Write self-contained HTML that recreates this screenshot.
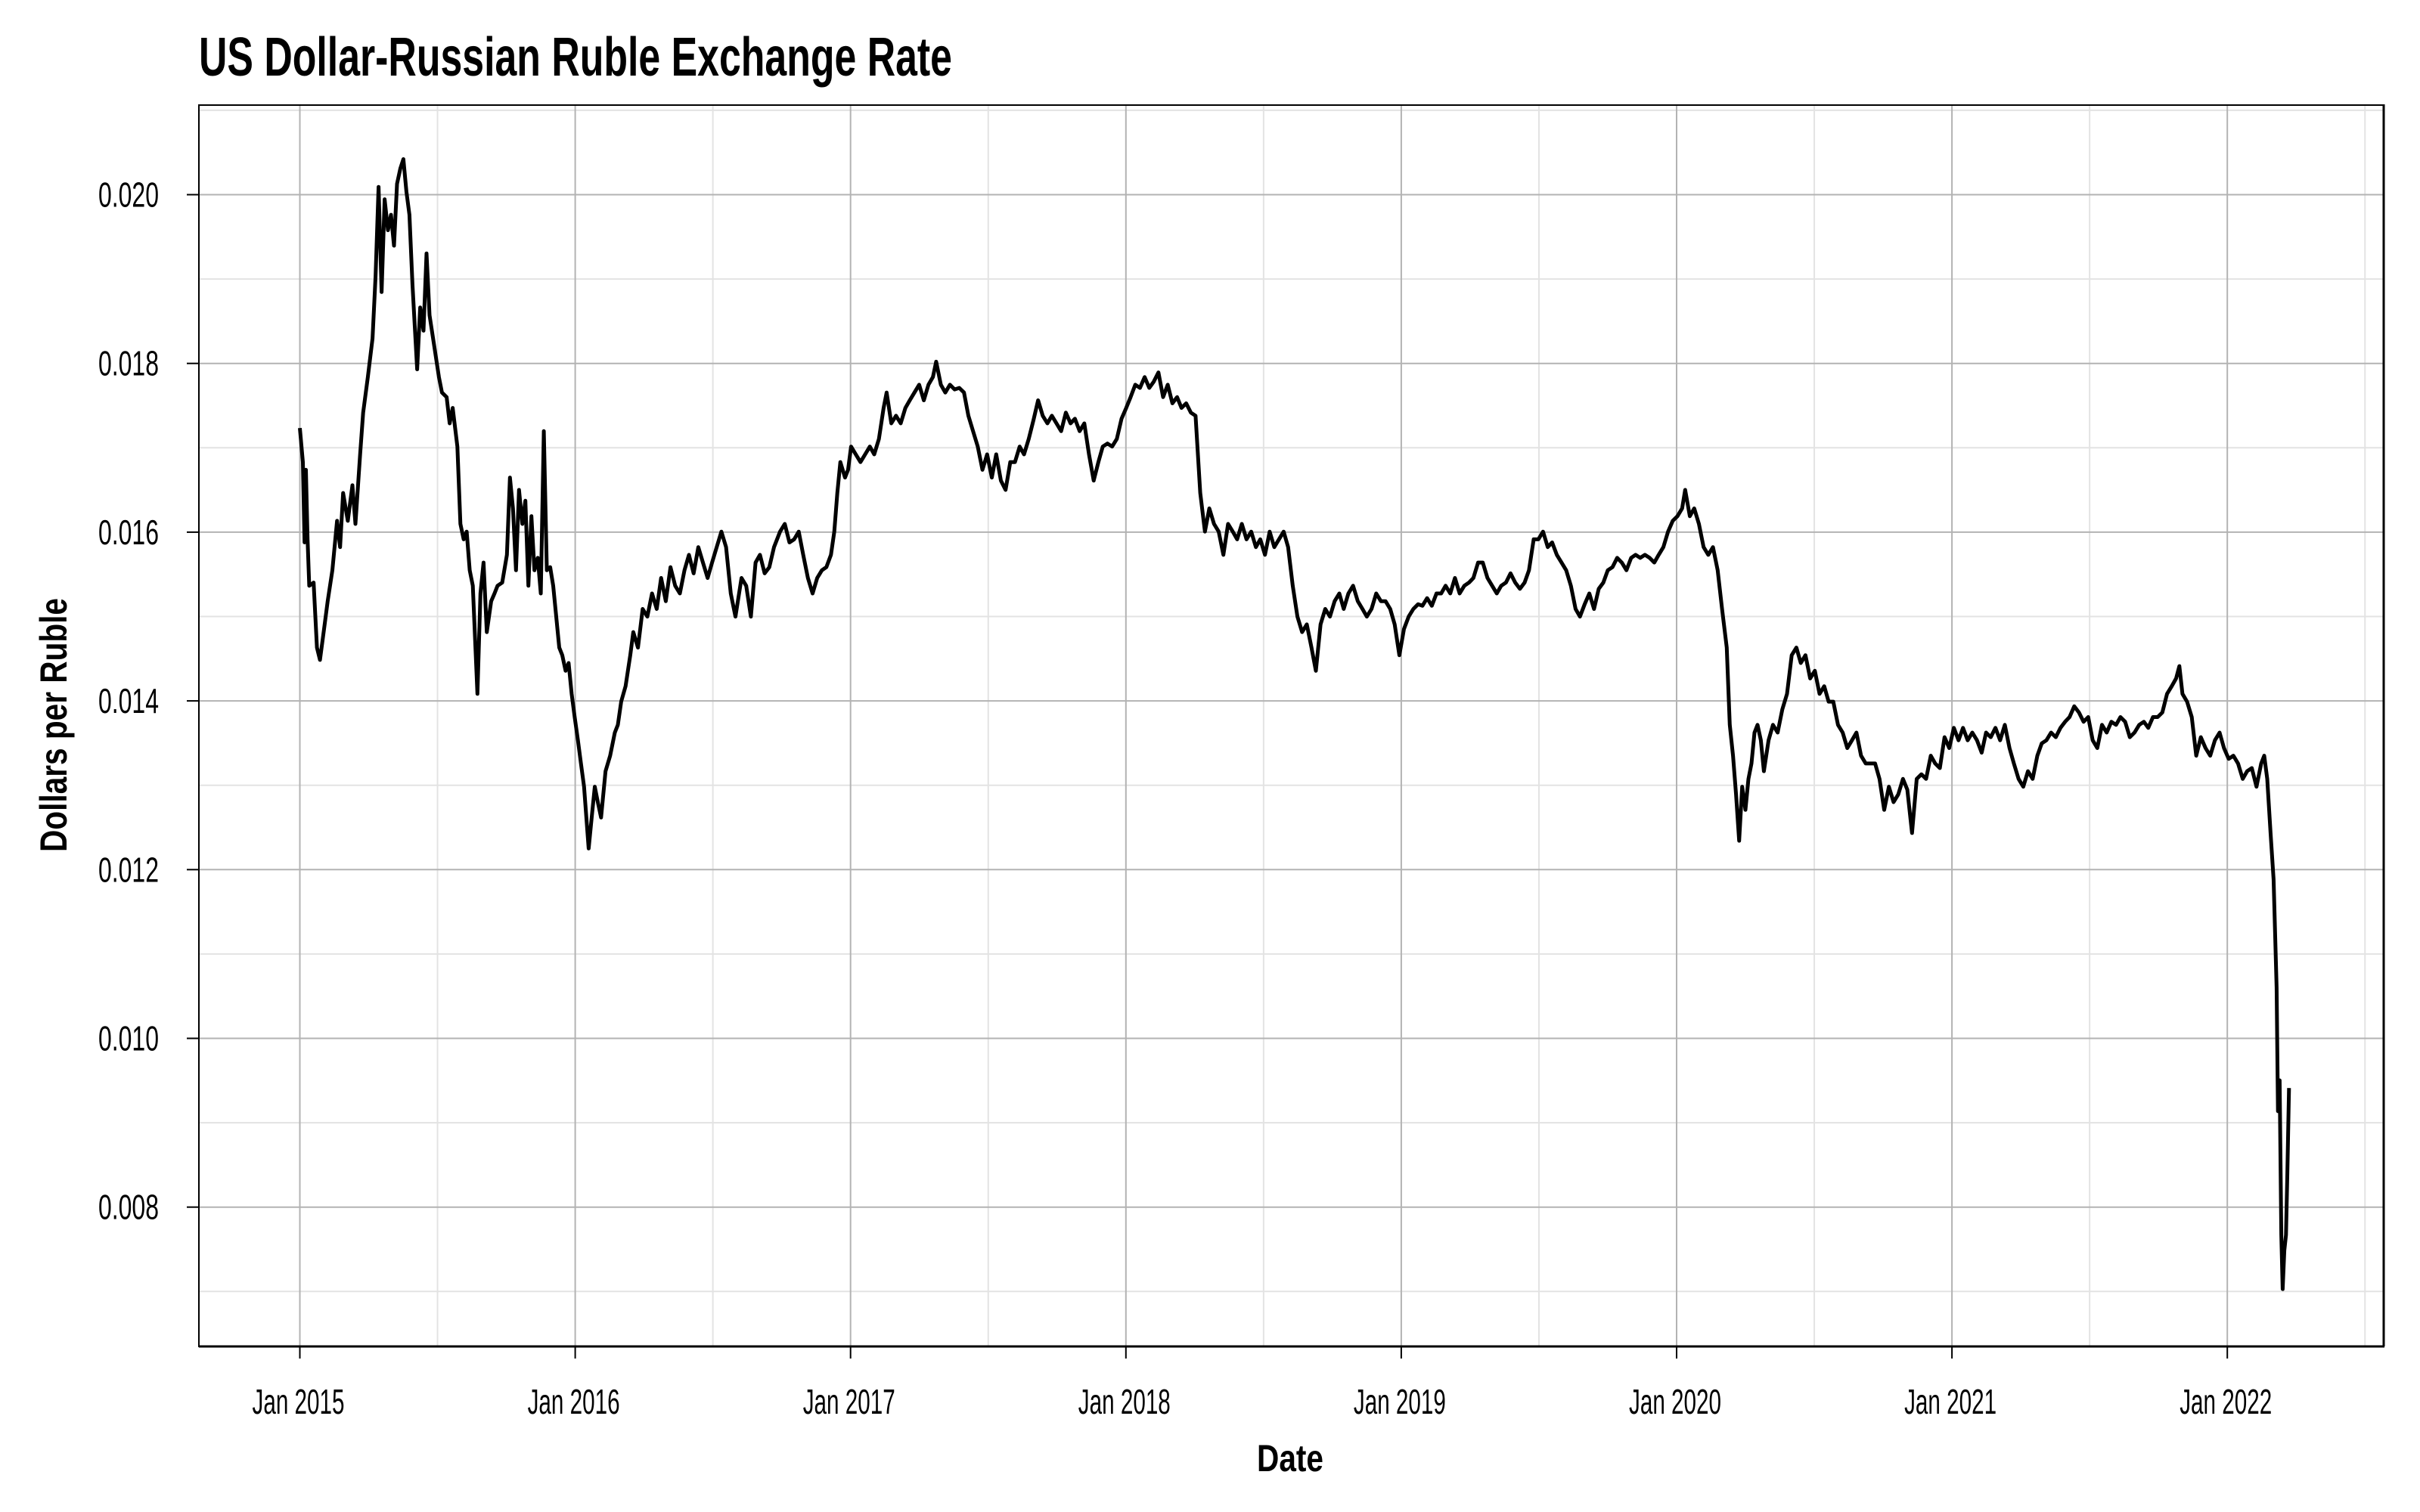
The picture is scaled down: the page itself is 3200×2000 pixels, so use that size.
<!DOCTYPE html>
<html><head><meta charset="utf-8"><style>
html,body{margin:0;padding:0;background:#fff;}
svg{display:block;}
text{font-family:"Liberation Sans Narrow","Liberation Sans",sans-serif;fill:#000;}
</style></head><body>
<svg id="chart" width="3200" height="2000" viewBox="0 0 3200 2000" xmlns="http://www.w3.org/2000/svg">
<rect x="0" y="0" width="3200" height="2000" fill="#fff"/>
<text x="263" y="100" font-size="72" font-weight="bold" textLength="996" lengthAdjust="spacingAndGlyphs">US Dollar-Russian Ruble Exchange Rate</text>
<g id="grid"></g>
<g id="series"></g>
<g id="frame"></g>
<g id="axes"></g>
<text x="1706" y="1946" font-size="50" font-weight="bold" text-anchor="middle" textLength="88" lengthAdjust="spacingAndGlyphs">Date</text>
<text x="0" y="0" transform="translate(88,959) rotate(-90)" font-size="50" font-weight="bold" text-anchor="middle" textLength="336" lengthAdjust="spacingAndGlyphs">Dollars per Ruble</text>
</svg>
<script>
// years since Jan 2015
const yearsSince2015 = [0.000,0.011,0.017,0.022,0.028,0.034,0.050,0.062,0.073,0.090,0.101,0.118,0.135,0.146,0.157,0.174,0.191,0.202,0.219,0.230,0.247,0.264,0.275,0.286,0.297,0.308,0.320,0.331,0.342,0.353,0.365,0.376,0.387,0.398,0.409,0.426,0.437,0.449,0.460,0.471,0.488,0.505,0.516,0.533,0.544,0.555,0.572,0.583,0.595,0.606,0.617,0.628,0.645,0.656,0.667,0.679,0.695,0.707,0.718,0.735,0.752,0.763,0.774,0.785,0.796,0.808,0.819,0.830,0.841,0.852,0.864,0.875,0.886,0.897,0.909,0.920,0.931,0.942,0.953,0.965,0.976,0.987,0.998,1.010,1.021,1.032,1.049,1.060,1.071,1.082,1.094,1.110,1.127,1.144,1.155,1.167,1.183,1.200,1.211,1.228,1.245,1.262,1.279,1.296,1.312,1.329,1.346,1.363,1.380,1.397,1.413,1.430,1.447,1.464,1.481,1.497,1.514,1.531,1.548,1.565,1.582,1.604,1.621,1.638,1.655,1.671,1.688,1.705,1.722,1.744,1.761,1.778,1.795,1.812,1.828,1.845,1.862,1.879,1.896,1.912,1.929,1.941,1.952,1.963,1.980,1.991,2.002,2.019,2.036,2.053,2.070,2.086,2.103,2.120,2.131,2.148,2.165,2.182,2.199,2.215,2.232,2.249,2.266,2.283,2.299,2.311,2.328,2.344,2.361,2.378,2.395,2.412,2.428,2.445,2.462,2.479,2.496,2.513,2.529,2.546,2.563,2.580,2.597,2.614,2.630,2.647,2.664,2.681,2.698,2.715,2.731,2.748,2.765,2.782,2.799,2.815,2.832,2.849,2.866,2.883,2.900,2.916,2.933,2.950,2.967,2.984,3.001,3.017,3.034,3.051,3.068,3.085,3.101,3.118,3.135,3.152,3.169,3.186,3.202,3.219,3.236,3.253,3.270,3.287,3.303,3.320,3.337,3.354,3.371,3.388,3.404,3.421,3.438,3.455,3.472,3.488,3.505,3.522,3.539,3.556,3.573,3.589,3.606,3.623,3.640,3.657,3.674,3.690,3.707,3.724,3.741,3.758,3.775,3.791,3.808,3.825,3.842,3.859,3.875,3.892,3.909,3.926,3.943,3.960,3.976,3.993,4.010,4.027,4.044,4.061,4.077,4.094,4.111,4.128,4.145,4.161,4.178,4.195,4.212,4.229,4.246,4.262,4.279,4.296,4.313,4.330,4.347,4.363,4.380,4.397,4.414,4.431,4.448,4.464,4.481,4.498,4.515,4.532,4.548,4.565,4.582,4.599,4.616,4.633,4.649,4.666,4.683,4.700,4.717,4.734,4.750,4.767,4.784,4.801,4.818,4.835,4.851,4.868,4.885,4.902,4.919,4.935,4.952,4.969,4.986,5.003,5.020,5.031,5.048,5.064,5.081,5.098,5.115,5.132,5.149,5.165,5.182,5.193,5.205,5.216,5.227,5.238,5.250,5.261,5.272,5.283,5.294,5.306,5.317,5.334,5.350,5.367,5.384,5.401,5.418,5.435,5.451,5.468,5.485,5.502,5.519,5.536,5.552,5.569,5.586,5.603,5.620,5.637,5.653,5.670,5.687,5.704,5.721,5.737,5.754,5.771,5.788,5.805,5.822,5.838,5.855,5.872,5.889,5.906,5.923,5.939,5.956,5.973,5.990,6.007,6.024,6.040,6.057,6.074,6.091,6.108,6.124,6.141,6.158,6.175,6.192,6.209,6.225,6.242,6.259,6.276,6.293,6.310,6.326,6.343,6.360,6.377,6.394,6.411,6.427,6.444,6.461,6.478,6.495,6.511,6.528,6.545,6.562,6.579,6.596,6.612,6.629,6.646,6.663,6.680,6.697,6.713,6.730,6.747,6.764,6.781,6.798,6.814,6.826,6.837,6.854,6.871,6.887,6.904,6.921,6.938,6.955,6.972,6.988,7.005,7.022,7.039,7.056,7.072,7.089,7.106,7.123,7.134,7.145,7.157,7.168,7.179,7.184,7.190,7.196,7.201,7.207,7.213,7.218,7.224];
// dollars per ruble, in thousandths
const rateMilli = [17.234,16.831,15.878,16.739,15.915,15.365,15.402,14.632,14.486,14.907,15.182,15.548,16.134,15.823,16.464,16.134,16.556,16.098,16.922,17.417,17.838,18.296,19.029,20.092,18.846,19.945,19.579,19.762,19.395,20.128,20.311,20.421,20.037,19.762,18.937,17.930,18.663,18.388,19.304,18.571,18.205,17.838,17.655,17.600,17.289,17.472,17.014,16.098,15.915,16.006,15.548,15.365,14.083,15.273,15.640,14.815,15.182,15.273,15.365,15.402,15.731,16.647,16.281,15.548,16.501,16.098,16.373,15.365,16.189,15.548,15.695,15.273,17.197,15.548,15.585,15.365,14.999,14.632,14.541,14.357,14.449,14.083,13.808,13.533,13.258,12.983,12.251,12.617,12.983,12.800,12.617,13.167,13.350,13.625,13.716,13.991,14.174,14.541,14.815,14.632,15.090,14.999,15.273,15.090,15.457,15.182,15.585,15.365,15.273,15.548,15.731,15.512,15.823,15.640,15.457,15.640,15.823,16.006,15.823,15.273,14.999,15.457,15.365,14.999,15.640,15.731,15.512,15.585,15.823,16.006,16.098,15.878,15.915,16.006,15.731,15.457,15.273,15.457,15.548,15.585,15.731,16.006,16.464,16.831,16.647,16.739,17.014,16.922,16.831,16.922,17.014,16.922,17.105,17.472,17.655,17.289,17.380,17.289,17.472,17.563,17.655,17.747,17.563,17.747,17.838,18.021,17.747,17.655,17.747,17.692,17.710,17.655,17.380,17.197,17.014,16.739,16.922,16.647,16.922,16.611,16.501,16.831,16.831,17.014,16.922,17.105,17.325,17.563,17.380,17.289,17.380,17.289,17.197,17.417,17.289,17.344,17.197,17.289,16.922,16.611,16.831,17.014,17.050,17.014,17.105,17.344,17.472,17.600,17.747,17.710,17.838,17.710,17.783,17.893,17.600,17.747,17.527,17.600,17.472,17.527,17.417,17.380,16.464,16.006,16.281,16.098,16.006,15.731,16.098,16.006,15.915,16.098,15.915,16.006,15.823,15.915,15.731,16.006,15.823,15.915,16.006,15.823,15.365,14.999,14.815,14.907,14.632,14.357,14.907,15.090,14.999,15.182,15.273,15.090,15.273,15.365,15.182,15.090,14.999,15.090,15.273,15.182,15.182,15.090,14.907,14.541,14.852,14.999,15.090,15.145,15.127,15.218,15.127,15.273,15.273,15.365,15.273,15.457,15.273,15.365,15.402,15.457,15.640,15.640,15.457,15.365,15.273,15.365,15.402,15.512,15.402,15.328,15.402,15.548,15.915,15.915,16.006,15.823,15.878,15.731,15.640,15.548,15.365,15.090,14.999,15.145,15.273,15.090,15.328,15.402,15.548,15.585,15.695,15.640,15.548,15.695,15.731,15.695,15.731,15.695,15.640,15.731,15.823,16.006,16.134,16.189,16.281,16.501,16.189,16.281,16.098,15.823,15.731,15.823,15.548,15.090,14.632,13.716,13.350,12.892,12.342,12.983,12.709,13.075,13.258,13.625,13.716,13.533,13.167,13.533,13.716,13.625,13.900,14.083,14.541,14.632,14.449,14.541,14.266,14.357,14.083,14.174,13.991,13.991,13.716,13.625,13.441,13.533,13.625,13.350,13.258,13.258,13.258,13.075,12.709,12.983,12.800,12.892,13.075,12.947,12.434,13.075,13.130,13.075,13.350,13.258,13.203,13.570,13.441,13.680,13.533,13.680,13.533,13.625,13.533,13.386,13.625,13.570,13.680,13.533,13.716,13.441,13.258,13.075,12.983,13.167,13.075,13.350,13.496,13.533,13.625,13.570,13.680,13.753,13.808,13.936,13.863,13.753,13.808,13.533,13.441,13.716,13.625,13.753,13.716,13.808,13.753,13.570,13.625,13.716,13.753,13.680,13.808,13.808,13.863,14.083,14.174,14.266,14.412,14.083,13.991,13.808,13.350,13.570,13.441,13.350,13.533,13.625,13.441,13.313,13.350,13.258,13.075,13.167,13.203,12.983,13.258,13.350,13.075,12.434,11.884,10.602,9.136,9.503,7.671,7.029,7.487,7.671,8.403,9.411];
const yTickValues = [0.008,0.010,0.012,0.014,0.016,0.018,0.020];
const yTickLabels = ["0.008","0.010","0.012","0.014","0.016","0.018","0.020"];
const yMinorValues = [0.007,0.009,0.011,0.013,0.015,0.017,0.019,0.021];
const xTickYears = [2015,2016,2017,2018,2019,2020,2021,2022];
const xTickLabels = ["Jan 2015","Jan 2016","Jan 2017","Jan 2018","Jan 2019","Jan 2020","Jan 2021","Jan 2022"];
const xMinorYears = [2015.5,2016.5,2017.5,2018.5,2019.5,2020.5,2021.5,2022.5];

const NS = "http://www.w3.org/2000/svg";
const P = {l:263, r:3152, t:139, b:1781};
function xScale(year){ return 396.5 + (year - 2015) * 364.1; }
function yScale(v){ return 257.5 + (0.020 - v) * 111600; }
function mk(tag, attrs, parent){ const e=document.createElementNS(NS,tag); for(const k in attrs) e.setAttribute(k,attrs[k]); parent.appendChild(e); return e; }

const grid = document.getElementById('grid');
yMinorValues.forEach(v=>{
  const ln = mk('line',{x1:P.l,x2:P.r,y1:yScale(v),y2:yScale(v),stroke:'#e3e3e3','stroke-width':2},grid);
  
  
});
xMinorYears.forEach(y=>{
  const ln = mk('line',{x1:xScale(y),x2:xScale(y),y1:P.t,y2:P.b,stroke:'#e3e3e3','stroke-width':2},grid);
  
  
});
yTickValues.forEach(v=>{
  const ln = mk('line',{x1:P.l,x2:P.r,y1:yScale(v),y2:yScale(v),stroke:'#b3b3b3','stroke-width':2},grid);
  
  
});
xTickYears.forEach(y=>{
  const ln = mk('line',{x1:xScale(y),x2:xScale(y),y1:P.t,y2:P.b,stroke:'#b3b3b3','stroke-width':2},grid);
  
  
});

const series = document.getElementById('series');
let d = '';
for(let i=0;i<yearsSince2015.length;i++){
  d += (i?'L':'M') + xScale(2015+yearsSince2015[i]).toFixed(1) + ',' + yScale(rateMilli[i]/1000).toFixed(1);
}
const path = mk('path',{d:d,fill:'none',stroke:'#000','stroke-width':5,'stroke-linejoin':'round'},series);



const frame = document.getElementById('frame');
const fTop = mk('line',{x1:P.l,x2:P.r,y1:P.t,y2:P.t,stroke:'#000','stroke-width':2},frame);


const fRight = mk('line',{x1:P.r,x2:P.r,y1:P.t-1,y2:P.b,stroke:'#000','stroke-width':3},frame);


const fLeft = mk('line',{x1:P.l,x2:P.l,y1:P.t-1,y2:P.b+1,stroke:'#000','stroke-width':2},frame);


const fBottom = mk('line',{x1:P.l,x2:P.r+1,y1:P.b,y2:P.b,stroke:'#000','stroke-width':3},frame);



const axes = document.getElementById('axes');
yTickValues.forEach((v,i)=>{
  const tk = mk('line',{x1:P.l-16,x2:P.l,y1:yScale(v),y2:yScale(v),stroke:'#000','stroke-width':2},axes);
  
  
  const t = mk('text',{x:210,y:yScale(v)+16,'font-size':46,'text-anchor':'end',textLength:80,lengthAdjust:'spacingAndGlyphs'},axes);
  t.textContent = yTickLabels[i];
  
  
});
xTickYears.forEach((y,i)=>{
  const tk = mk('line',{x1:xScale(y),x2:xScale(y),y1:P.b,y2:P.b+16,stroke:'#000','stroke-width':2},axes);
  
  
  const t = mk('text',{x:xScale(y)-2,y:1870,'font-size':46,'text-anchor':'middle',textLength:122,lengthAdjust:'spacingAndGlyphs'},axes);
  t.textContent = xTickLabels[i];
  
  
});
</script>
</body></html>
